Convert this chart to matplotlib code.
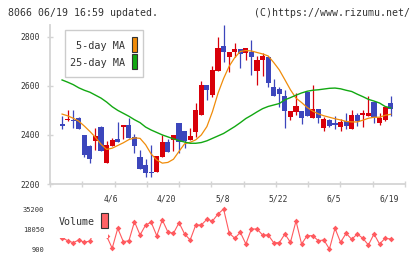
import numpy as np
import matplotlib
matplotlib.use("Agg")
import matplotlib.pyplot as plt
from matplotlib.patches import Rectangle

# ---------------- data ----------------
opens = [2414, 2445, 2460, 2461, 2470, 2400, 2355, 2377, 2433, 2287,
         2356, 2385, 2433, 2441, 2392, 2311, 2278, 2250, 2250, 2311,
         2373, 2380, 2448, 2416, 2380, 2413, 2482, 2604, 2563, 2662,
         2763, 2716, 2736, 2751, 2734, 2739, 2662, 2706, 2716, 2597,
         2588, 2559, 2475, 2495, 2498, 2573, 2467, 2505, 2430, 2461,
         2449, 2434, 2457, 2426, 2482, 2482, 2478, 2536, 2450, 2461,
         2529]
highs = [2418, 2478, 2502, 2502, 2473, 2400, 2357, 2427, 2437, 2376,
         2386, 2454, 2441, 2471, 2403, 2339, 2301, 2359, 2314, 2400,
         2383, 2400, 2448, 2416, 2427, 2529, 2618, 2604, 2682, 2801,
         2849, 2739, 2774, 2751, 2754, 2788, 2720, 2733, 2716, 2627,
         2597, 2584, 2499, 2570, 2498, 2573, 2604, 2505, 2475, 2464,
         2478, 2464, 2489, 2502, 2489, 2502, 2559, 2536, 2489, 2519,
         2559]
lows = [2414, 2424, 2457, 2430, 2423, 2311, 2284, 2339, 2336, 2287,
        2356, 2373, 2385, 2389, 2327, 2261, 2227, 2230, 2250, 2311,
        2332, 2336, 2325, 2346, 2380, 2393, 2482, 2543, 2554, 2662,
        2699, 2658, 2716, 2672, 2706, 2645, 2604, 2641, 2597, 2560,
        2515, 2430, 2461, 2482, 2445, 2478, 2467, 2450, 2418, 2431,
        2424, 2418, 2426, 2426, 2437, 2434, 2478, 2448, 2441, 2455,
        2478]
closes = [2418, 2438, 2464, 2455, 2426, 2318, 2301, 2396, 2336, 2359,
          2380, 2373, 2441, 2389, 2356, 2261, 2246, 2244, 2314, 2370,
          2332, 2400, 2370, 2377, 2396, 2502, 2604, 2584, 2665, 2756,
          2736, 2739, 2751, 2731, 2754, 2716, 2706, 2722, 2613, 2560,
          2567, 2499, 2499, 2518, 2471, 2478, 2505, 2467, 2464, 2437,
          2442, 2453, 2437, 2482, 2458, 2491, 2489, 2475, 2467, 2515,
          2506]
ma5 = [np.nan, 2485, 2478, 2468, 2456, 2436, 2414, 2390, 2362, 2341,
       2346, 2357, 2368, 2381, 2388, 2386, 2360, 2322, 2298, 2285,
       2288, 2301, 2333, 2364, 2370, 2380, 2400, 2434, 2495, 2570,
       2630, 2680, 2715, 2740, 2744, 2742, 2736, 2730, 2722, 2695,
       2665, 2625, 2584, 2550, 2532, 2512, 2497, 2486, 2478, 2472,
       2466, 2461, 2455, 2453, 2453, 2460, 2468, 2472, 2472, 2480,
       2484]
ma25 = [np.nan, 2624, 2615, 2605, 2592, 2582, 2574, 2562, 2550, 2534,
        2515, 2500, 2488, 2476, 2462, 2450, 2432, 2420, 2410, 2400,
        2392, 2384, 2377, 2371, 2366, 2366, 2369, 2376, 2386, 2396,
        2406, 2420, 2434, 2450, 2467, 2480, 2494, 2507, 2516, 2522,
        2528, 2543, 2552, 2562, 2571, 2578, 2582, 2584, 2587, 2590,
        2591, 2588, 2582, 2577, 2566, 2556, 2545, 2538, 2530, 2516,
        2510]
volume = [14620, 10590, 8017, 6302, 8618, 6645, 7760, 18908, 21480, 12050,
          1500, 18650, 7160, 8017, 24310, 12905, 21480, 23795, 12305, 25770,
          15480, 14360, 23450, 13760, 8620, 21480, 21480, 26370, 24910, 30910,
          35200, 14620, 10075, 15220, 5190, 18050, 18050, 12905, 12905, 6300,
          6300, 13760, 6645, 24910, 5190, 12305, 12305, 8017, 8620, 900,
          18650, 6645, 14360, 9220, 13760, 10075, 4330, 13760, 5190, 10075,
          9475]
date_labels = ["4/6", "4/20", "5/8", "5/22", "6/5", "6/19"]
date_pos = [9.7, 19.7, 29.8, 39.8, 49.8, 59.7]
price_ticks = [2200, 2400, 2600, 2800]
vol_ticks = [900, 18050, 35200]

# ---------------- style ----------------
W, H = 420, 259
MONO = "DejaVu Sans Mono"
TXT = "#333333"
AX = "#d4d4d4"
RED = "#d8000a"
BLUE = "#3c46bc"
ORANGE = "#f08c0a"
GREEN = "#12a812"
VOLC = "#ff5a5f"

fig = plt.figure(figsize=(W / 100, H / 100), dpi=100)
fig.patch.set_facecolor("white")


def fx(x):
    return x / W


def fy(y):
    return 1 - y / H


x = np.arange(len(closes))
step = 5.57
xl = ((50 - 56.5) / step, (405 - 56.5) / step)

# ---------------- main chart ----------------
ax = fig.add_axes([fx(50), fy(184), (405 - 50) / W, (184 - 25) / H])
ax.set_xlim(*xl)
ax.set_ylim(2200, 2848)
for s in ["top", "right"]:
    ax.spines[s].set_visible(False)
for s in ["left", "bottom"]:
    ax.spines[s].set_color(AX)
    ax.spines[s].set_linewidth(1.3)

o = np.array(opens, float)
c = np.array(closes, float)
up = c >= o
cols = np.where(up, RED, BLUE)
ax.vlines(x, lows, highs, colors=cols, lw=0.9, zorder=2)
bottom = np.minimum(o, c)
height = np.maximum(np.abs(c - o), 4)
ax.bar(x, height, bottom=bottom, width=0.92, color=cols, lw=0, zorder=3)

ax.plot(x, ma5, color=ORANGE, lw=0.9, zorder=4)
ax.plot(x, ma25, color=GREEN, lw=1.0, zorder=4)

ax.set_yticks(price_ticks)
ax.set_yticklabels([str(v) for v in price_ticks], fontfamily=MONO,
                   fontsize=5.8, color=TXT)
ax.tick_params(axis="y", direction="inout", length=5, width=1.0,
               color=AX, pad=5.0)
grid_x = [xl[0] + k * (xl[1] - xl[0]) / 11 for k in range(12)]
ax.set_xticks(grid_x)
ax.set_xticklabels([""] * len(grid_x))
ax.tick_params(axis="x", which="major", direction="inout", length=5,
               width=1.0, color=AX)
ax.set_xticks(date_pos, minor=True)
ax.set_xticklabels(date_labels, minor=True, fontfamily=MONO, fontsize=5.8,
                   color=TXT)
ax.tick_params(axis="x", which="minor", length=0, pad=7.5)

# main legend
fig.add_artist(Rectangle((fx(65), fy(77)), (143 - 65) / W, (77 - 30) / H,
                         transform=fig.transFigure, facecolor="white",
                         edgecolor="#cccccc", lw=1.0, zorder=5))
fig.text(fx(125.5), fy(46), "5-day MA", ha="right", va="center",
         fontfamily=MONO, fontsize=7.3, color=TXT, zorder=6)
fig.text(fx(125.5), fy(63.3), "25-day MA", ha="right", va="center",
         fontfamily=MONO, fontsize=7.3, color=TXT, zorder=6)
fig.add_artist(Rectangle((fx(131.7), fy(52)), 5.6 / W, 15 / H,
                         transform=fig.transFigure, facecolor=ORANGE,
                         edgecolor="#333333", lw=0.8, zorder=6))
fig.add_artist(Rectangle((fx(131.7), fy(69)), 5.6 / W, 15 / H,
                         transform=fig.transFigure, facecolor=GREEN,
                         edgecolor="#333333", lw=0.8, zorder=6))

# ---------------- volume ----------------
vax = fig.add_axes([fx(50), fy(253), (405 - 50) / W, (253 - 205) / H])
vax.set_xlim(*xl)
vax.set_ylim(900 - 4 * 857.5, 35200 + 4 * 857.5)
for s in vax.spines.values():
    s.set_visible(False)
vax.plot(x, volume, color=VOLC, lw=0.8, marker="D", ms=2.9, mew=0,
         zorder=3)
vax.set_xticks([])
vax.set_yticks(vol_ticks)
vax.set_yticklabels([str(v) for v in vol_ticks], fontfamily=MONO,
                    fontsize=5.0, color=TXT)
vax.tick_params(axis="y", length=0, pad=4.3)

# volume legend (opaque box)
fig.add_artist(Rectangle((fx(54), fy(237.6)), (108.5 - 54) / W,
                         (237.6 - 204) / H, transform=fig.transFigure,
                         facecolor="white", edgecolor="none", zorder=5))
fig.text(fx(58.3), fy(222.3), "Volume", ha="left", va="center",
         fontfamily=MONO, fontsize=7.2, color=TXT, zorder=6)
fig.add_artist(Rectangle((fx(101.3), fy(228.3)), 6.2 / W, 15.6 / H,
                         transform=fig.transFigure, facecolor="#ff6266",
                         edgecolor="#333333", lw=0.8, zorder=6))

# ---------------- header ----------------
fig.text(fx(8.3), fy(12.7), "8066 06/19 16:59 updated.", ha="left",
         va="center", fontfamily=MONO, fontsize=7.1, color=TXT)
fig.text(fx(409.5), fy(12.7), "(C)https://www.rizumu.net/", ha="right",
         va="center", fontfamily=MONO, fontsize=7.1, color=TXT)

fig.savefig("out.png", dpi=100, facecolor="white")
